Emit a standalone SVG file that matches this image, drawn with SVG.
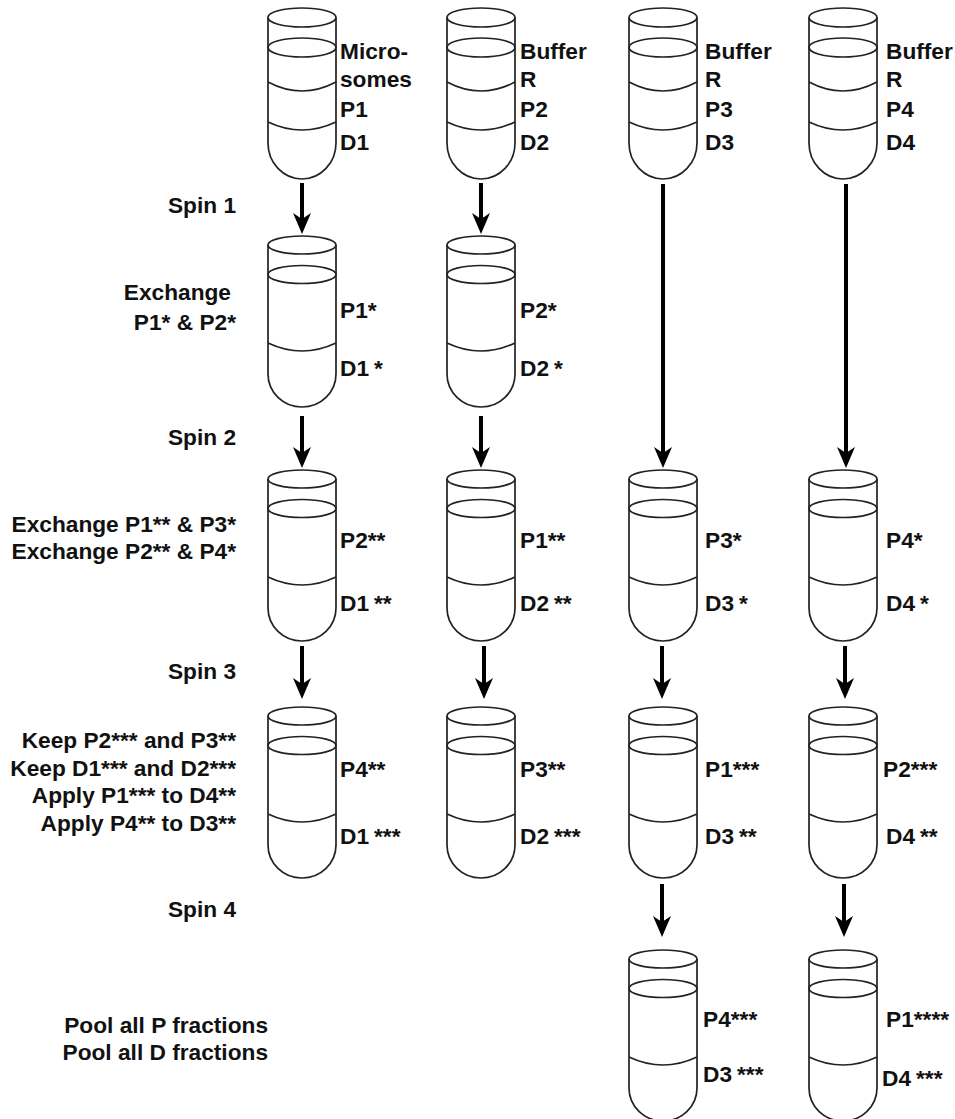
<svg xmlns="http://www.w3.org/2000/svg" width="955" height="1119" viewBox="0 0 955 1119">
<style>
.t{fill:none;stroke:#222;stroke-width:1.7}
text{font-family:"Liberation Sans",Arial,sans-serif;font-weight:700;font-size:22.700px;fill:#111}
.c{stroke:#000;stroke-width:4;fill:none;marker-end:url(#a)}
</style>
<defs>
<marker id="a" markerUnits="userSpaceOnUse" markerWidth="22" markerHeight="20" refX="11" refY="10" orient="auto"><path d="M0 1 L21 10 L0 19 L6 10Z" fill="#000"/></marker>
<g id="t4" class="t"><ellipse cx="34" cy="9.500" rx="34" ry="9.500"/><ellipse cx="34" cy="39.500" rx="34" ry="9.500"/><path d="M0 9.500V135A34 36 0 0 0 68 135V9.500"/><path d="M0 74Q34 92 68 74M0 114Q34 130 68 114"/></g>
<g id="t3" class="t"><ellipse cx="34" cy="9" rx="34" ry="9"/><ellipse cx="34" cy="38.500" rx="34" ry="9"/><path d="M0 9V138A34 33 0 0 0 68 138V9"/><path d="M0 107Q34 123 68 107"/></g>
</defs>
<rect width="955" height="1119" fill="#fff"/>
<g id="connectors">
<path class="c" d="M302 183V224"/><path class="c" d="M481 183V224"/><path class="c" d="M663 184V458"/><path class="c" d="M846 184V458"/>
<path class="c" d="M302 416V458"/><path class="c" d="M481 416V458"/>
<path class="c" d="M302 646V689"/><path class="c" d="M484 646V689"/><path class="c" d="M662 646V689"/><path class="c" d="M845 646V689"/>
<path class="c" d="M662 884V927"/><path class="c" d="M844 884V927"/>
</g>
<g id="r1c1"><use href="#t4" x="268" y="8"/><text x="340" y="59">Micro-</text><text x="340" y="87">somes</text><text x="340" y="117">P1</text><text x="340" y="150">D1</text></g>
<g id="r1c2"><use href="#t4" x="447" y="8"/><text x="520" y="59">Buffer</text><text x="520" y="87">R</text><text x="520" y="117">P2</text><text x="520" y="150">D2</text></g>
<g id="r1c3"><use href="#t4" x="629" y="8"/><text x="705" y="59">Buffer</text><text x="705" y="87">R</text><text x="705" y="117">P3</text><text x="705" y="150">D3</text></g>
<g id="r1c4"><use href="#t4" x="809" y="8"/><text x="886" y="59">Buffer</text><text x="886" y="87">R</text><text x="886" y="117">P4</text><text x="886" y="150">D4</text></g>
<g id="r2c1"><use href="#t3" x="268" y="236"/><text x="340" y="318">P1*</text><text x="340" y="376">D1<tspan dx="5">*</tspan></text></g>
<g id="r2c2"><use href="#t3" x="447" y="236"/><text x="520" y="318">P2*</text><text x="520" y="376">D2<tspan dx="5">*</tspan></text></g>
<g id="r3c1"><use href="#t3" x="268" y="470"/><text x="340" y="548">P2**</text><text x="340" y="611">D1<tspan dx="5">**</tspan></text></g>
<g id="r3c2"><use href="#t3" x="447" y="470"/><text x="520" y="548">P1**</text><text x="520" y="611">D2<tspan dx="5">**</tspan></text></g>
<g id="r3c3"><use href="#t3" x="629" y="470"/><text x="705" y="548">P3*</text><text x="705" y="611">D3<tspan dx="5">*</tspan></text></g>
<g id="r3c4"><use href="#t3" x="809" y="470"/><text x="886" y="548">P4*</text><text x="886" y="611">D4<tspan dx="5">*</tspan></text></g>
<g id="r4c1"><use href="#t3" x="268" y="707"/><text x="340" y="777">P4**</text><text x="340" y="844">D1<tspan dx="5">***</tspan></text></g>
<g id="r4c2"><use href="#t3" x="447" y="707"/><text x="520" y="777">P3**</text><text x="520" y="844">D2<tspan dx="5">***</tspan></text></g>
<g id="r4c3"><use href="#t3" x="629" y="707"/><text x="705" y="777">P1***</text><text x="705" y="844">D3<tspan dx="5">**</tspan></text></g>
<g id="r4c4"><use href="#t3" x="809" y="707"/><text x="883" y="777">P2***</text><text x="886" y="844">D4<tspan dx="5">**</tspan></text></g>
<g id="r5c3"><use href="#t3" x="629" y="950"/><text x="703" y="1027">P4***</text><text x="703" y="1082">D3<tspan dx="5">***</tspan></text></g>
<g id="r5c4"><use href="#t3" x="809" y="950"/><text x="886" y="1027">P1****</text><text x="882" y="1086">D4<tspan dx="5">***</tspan></text></g>
<g id="labels" text-anchor="end">
<text x="236" y="213">Spin 1</text>
<text x="231" y="300">Exchange</text><text x="236" y="330">P1* &amp; P2*</text>
<text x="236" y="445">Spin 2</text>
<text x="236" y="532">Exchange P1** &amp; P3*</text><text x="236" y="559">Exchange P2** &amp; P4*</text>
<text x="236" y="679">Spin 3</text>
<text x="236" y="748">Keep P2*** and P3**</text><text x="236" y="776">Keep D1*** and D2***</text><text x="236" y="803">Apply P1*** to D4**</text><text x="236" y="831">Apply P4** to D3**</text>
<text x="236" y="917">Spin 4</text>
<text x="268" y="1033">Pool all P fractions</text><text x="268" y="1060">Pool all D fractions</text>
</g>
</svg>
